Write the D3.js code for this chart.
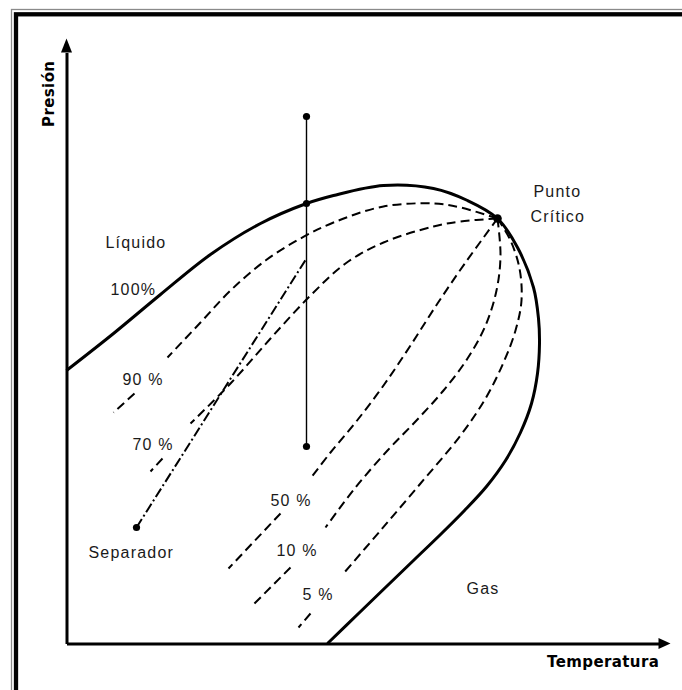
<!DOCTYPE html>
<html>
<head>
<meta charset="utf-8">
<script src="https://cdn.jsdelivr.net/npm/d3@7"></script>
<style>
  html, body { margin: 0; padding: 0; background: #fff; overflow: hidden; }
  .lbl { font-family: "Liberation Sans", Arial, sans-serif; font-size: 16px; letter-spacing: 1.2px; fill: #1a1a1a; }
  .ttl { font-family: "DejaVu Sans", sans-serif; font-size: 15px; font-weight: bold; letter-spacing: 0.4px; fill: #000; }
</style>
</head>
<body>
<svg id="chart" width="682" height="690"></svg>
<script>
// phase envelope (temperature, pressure) in arbitrary units
var envelope = [[0,273],[47,310],[94,349],[144,389],[194,420],[240,440],[267,448],[317,458],[367,455],
    [401,443],[431,425],[451,396],[467,356],[472,325],[473,300],[471,270],[465,240],[454,211],
    [439,183],[420,157],[398,133],[374,109],[348,84],[321,58],[292,30],[261,0]];

// quality lines, each one broken where its label sits
var q90 = [[[431,425],[394,436],[367,440],[317,437],[267,421],[234,405],[199,383],[164,353],[134,321],[101,286]],
           [[68,250],[47,231]]];
var q70 = [[[431,425],[394,422],[367,417],[317,401],[279,380],[244,348],[204,305],[164,260],[124,220]],
           [[96,185],[84,172]]];
var q50 = [[[431,425],[399,381],[371,340],[344,298],[317,258],[289,221],[264,191],[244,165]],
           [[214,130],[162,75]]];
var q10 = [[[431,425],[434,388],[430,353],[419,318],[401,285],[377,253],[349,222],[321,193],[289,156],[259,116]],
           [[224,76],[186,38]]];
var q5 = [[[431,425],[444,403],[453,375],[455,343],[449,313],[437,281],[419,245],[394,208],[354,160],[314,113],[277,70]],
          [[244,30],[232,16]]];

var critPoint = [431, 425],
    separator = [70, 116],
    pathTop = [240, 527],
    bubblePt = [240, 440],
    pathBottom = [240, 197],
    sepLine = [[70,116],[240,385]];

var labels = [
    {t: "Líquido", x: 39, y: 396},
    {t: "100%", x: 44, y: 349},
    {t: "90 %", x: 56, y: 259},
    {t: "70 %", x: 66, y: 194},
    {t: "Separador", x: 22, y: 86},
    {t: "50 %", x: 204, y: 138},
    {t: "10 %", x: 210, y: 88},
    {t: "5 %", x: 236, y: 44},
    {t: "Gas", x: 400, y: 50},
    {t: "Punto", x: 467, y: 447},
    {t: "Crítico", x: 464, y: 422}
];

var svg = d3.select("#chart");

// frame (only top and left edges fall inside the picture)
svg.append("rect").attr("x", 11.5).attr("y", 9.5).attr("width", 700).attr("height", 700)
    .attr("fill", "none").attr("stroke", "#8a8a8a").attr("stroke-width", 1.3);
svg.append("rect").attr("x", 16).attr("y", 14.3).attr("width", 700).attr("height", 700)
    .attr("fill", "none").attr("stroke", "#000").attr("stroke-width", 4.3);

var x = d3.scaleLinear().domain([0, 592]).range([66.5, 658.5]),
    y = d3.scaleLinear().domain([0, 591]).range([643.5, 52.5]);

svg.append("g").attr("transform", "translate(0," + y(0) + ")")
    .call(d3.axisBottom(x).tickValues([]).tickSizeOuter(0));
svg.append("g").attr("transform", "translate(" + x(0) + ",0)")
    .call(d3.axisLeft(y).tickValues([]).tickSizeOuter(0));
svg.selectAll(".domain").attr("stroke", "#000").attr("stroke-width", 3);

// arrow heads
var xe = x.range()[1], ye = y.range()[1];
svg.append("path").attr("d", "M" + xe + "," + (y(0) - 5.5) + "L" + (xe + 12) + "," + y(0) + "L" + xe + "," + (y(0) + 5.5) + "Z")
    .attr("fill", "#000");
svg.append("path").attr("d", "M" + (x(0) - 5.5) + "," + ye + "L" + x(0) + "," + (ye - 14) + "L" + (x(0) + 5.5) + "," + ye + "Z")
    .attr("fill", "#000");

var line = d3.line().x(d => x(d[0])).y(d => y(d[1])).curve(d3.curveCatmullRom.alpha(0.5));

svg.append("path").datum(envelope).attr("d", line)
    .attr("fill", "none").attr("stroke", "#000").attr("stroke-width", 3);

[q90, q70, q50, q10, q5].forEach(function (q) {
    q.forEach(function (seg) {
        svg.append("path").datum(seg).attr("d", line)
            .attr("fill", "none").attr("stroke", "#000").attr("stroke-width", 2)
            .attr("stroke-dasharray", "9,5");
    });
});

// separator path (dash-dot)
svg.append("path").datum(sepLine).attr("d", d3.line().x(d => x(d[0])).y(d => y(d[1])))
    .attr("fill", "none").attr("stroke", "#000").attr("stroke-width", 2)
    .attr("stroke-dasharray", "10,3,2,3");

// isothermal path
svg.append("line").attr("x1", x(pathTop[0])).attr("y1", y(pathTop[1]))
    .attr("x2", x(pathBottom[0])).attr("y2", y(pathBottom[1]))
    .attr("stroke", "#000").attr("stroke-width", 1.4);

svg.selectAll(".dot").data([pathTop, bubblePt, pathBottom, separator]).enter()
    .append("circle").attr("class", "dot")
    .attr("cx", d => x(d[0])).attr("cy", d => y(d[1])).attr("r", 3.6).attr("fill", "#000");
svg.append("circle").attr("cx", x(critPoint[0])).attr("cy", y(critPoint[1])).attr("r", 4.3).attr("fill", "#000");

svg.selectAll(".lbl").data(labels).enter()
    .append("text").attr("class", "lbl")
    .attr("x", d => x(d.x)).attr("y", d => y(d.y)).text(d => d.t);

svg.append("text").attr("class", "ttl").attr("x", 547).attr("y", 667).text("Temperatura");
svg.append("text").attr("class", "ttl").attr("transform", "translate(54,127) rotate(-90)").text("Presión");
</script>
</body>
</html>
